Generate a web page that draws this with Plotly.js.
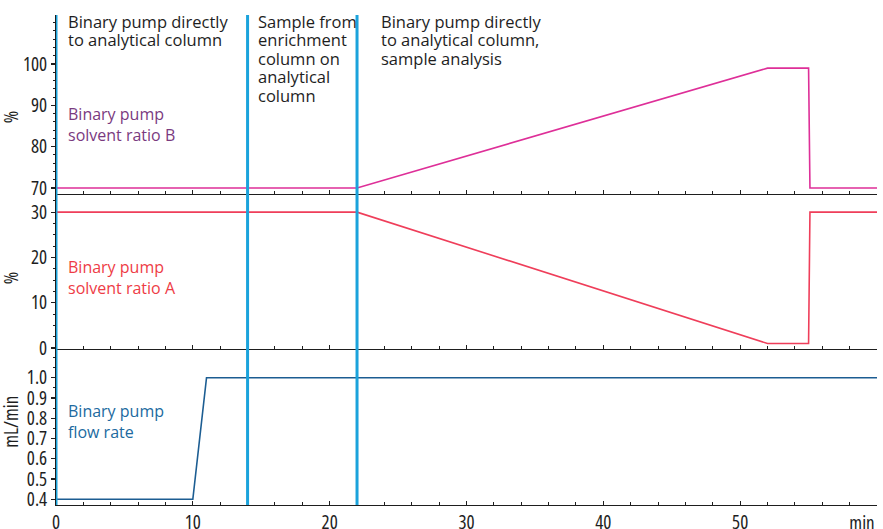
<!DOCTYPE html>
<html>
<head>
<meta charset="utf-8">
<script src="https://cdn.plot.ly/plotly-3.0.1.min.js"></script>
<style>
html,body{margin:0;padding:0;background:#fff;}
#chart{width:883px;height:529px;}
#chart g.xtick text, #chart g.ytick text, #chart g.y2tick text, #chart g.y3tick text, #chart g.x3tick text{font-stretch:75% !important;}
#chart g.annotation text{font-stretch:92% !important;}
#chart g.annotation.serieslab text{font-stretch:88% !important;}
#chart g.annotation.cond text{font-stretch:75% !important;}
</style>
</head>
<body>
<div id="chart"></div>
<script>
// ---- data ----
const timeB = [0, 22, 52, 55, 55.1, 60];
const ratioB = [70, 70, 99, 99, 70, 70];
const timeA = [0, 22, 52, 55, 55.1, 60];
const ratioA = [30, 30, 1, 1, 30, 30];
const timeFlow = [0, 10, 11, 60];
const flowRate = [0.4, 0.4, 1.0, 1.0];
const valveTimes = [0, 14, 22];
const tickB = [70, 80, 90, 100];
const tickA = [0, 10, 20, 30];
const tickFlow = [0.4, 0.5, 0.6, 0.7, 0.8, 0.9, 1.0];
const phaseLabels = [
  ["Binary pump directly", "to analytical column"],
  ["Sample from", "enrichment", "column on", "analytical", "column"],
  ["Binary pump directly", "to analytical column,", "sample analysis"]
];
const seriesLabels = ["Binary pump<br>solvent ratio B", "Binary pump<br>solvent ratio A", "Binary pump<br>flow rate"];
const yTitles = ["%", "%", "mL/min"];

// ---- style ----
const FONT = "'Open Sans', 'DejaVu Sans', sans-serif";
const INK = "#1e1e1e";
const colB = "#de2f98", colA = "#ef3e5a", colF = "#1c5d92";
const labB = "#7a3a7f", labA = "#ee3c46", labF = "#216aa0";
const valveCol = "#1ba3dc";

const traces = [
  {x: timeB, y: ratioB, xaxis: "x", yaxis: "y", mode: "lines", line: {color: colB, width: 1.6}, hoverinfo: "skip"},
  {x: timeA, y: ratioA, xaxis: "x2", yaxis: "y2", mode: "lines", line: {color: colA, width: 1.6}, hoverinfo: "skip"},
  {x: timeFlow, y: flowRate, xaxis: "x3", yaxis: "y3", mode: "lines", line: {color: colF, width: 1.6}, hoverinfo: "skip"}
];

function xax(anchor, labels) {
  return {
    anchor: anchor, range: [0, 60], dtick: 10, tick0: 0,
    showgrid: false, zeroline: false, showline: true, linecolor: INK, linewidth: 1.2,
    ticks: "inside", ticklen: 4, tickwidth: 1.2, tickcolor: INK,
    minor: {dtick: 2, ticks: "inside", ticklen: 3, tickwidth: 1, tickcolor: INK, showgrid: false},
    showticklabels: labels,
    tickfont: {family: FONT, size: 19, color: INK},
    fixedrange: true
  };
}
function yax(domain, range, vals, minor, fmt) {
  return {
    domain: domain, range: range, tickmode: "array", tickvals: vals,
    showgrid: false, zeroline: false, showline: true, linecolor: INK, linewidth: 1,
    ticks: "outside", ticklen: 4, tickwidth: 1.2, tickcolor: INK,
    minor: {dtick: minor, tick0: 0, ticks: "outside", ticklen: 2, tickwidth: 1, tickcolor: INK, showgrid: false},
    tickformat: fmt, ticklabelstandoff: 0,
    tickfont: {family: FONT, size: 19, color: INK},
    fixedrange: true
  };
}

const annotations = [];
phaseLabels.forEach((lines, i) => {
  const shiftX = [10, 8, 22][i];
  lines.forEach((t, j) => {
    annotations.push({
      text: t, xref: "x3", yref: "paper", x: valveTimes[i], y: 1,
      xanchor: "left", yanchor: "middle", xshift: shiftX, yshift: -(6 + j * 18.6),
      showarrow: false, align: "left",
      font: {family: FONT, size: 16.5, color: INK}
    });
  });
});
const labelCols = [labB, labA, labF];
const labelCenters = [124, 277, 421];   // px from top of figure
const titleCenters = [117, 278, 422];
const figTop = 15;
const seriesIdx = [];
seriesLabels.forEach((t, i) => {
  seriesIdx.push(annotations.length);
  annotations.push({
    text: t, xref: "paper", yref: "paper", x: 0, y: 1,
    xanchor: "left", yanchor: "middle", xshift: 10, yshift: -(labelCenters[i] - figTop),
    showarrow: false, align: "left",
    font: {family: FONT, size: 16, color: labelCols[i]}
  });
});
const condensedIdx = [];
yTitles.forEach((t, i) => {
  condensedIdx.push(annotations.length);
  annotations.push({
    text: t, xref: "paper", yref: "paper", x: 0, y: 1, textangle: -90,
    xanchor: "center", yanchor: "middle", xshift: -45, yshift: -(titleCenters[i] - figTop),
    showarrow: false, font: {family: FONT, size: 19, color: INK}
  });
});
condensedIdx.push(annotations.length);
annotations.push({
  text: "min", xref: "paper", yref: "paper", x: 1, y: 0,
  xanchor: "right", yanchor: "top", xshift: 4, yshift: -3,
  showarrow: false, font: {family: FONT, size: 19, color: INK}
});

const shapes = valveTimes.map(t => ({
  type: "line", xref: "x3", yref: "paper", x0: t, x1: t, y0: 0, y1: 1,
  line: {color: valveCol, width: 3}, layer: "above"
}));

const layout = {
  width: 883, height: 529,
  margin: {l: 56, r: 6, t: 15, b: 24, pad: 0},
  paper_bgcolor: "#ffffff", plot_bgcolor: "#ffffff",
  showlegend: false,
  xaxis: xax("y", false),
  xaxis2: xax("y2", false),
  xaxis3: xax("y3", true),
  yaxis: yax([0.6347, 1], [68.55, 111.85], tickB, 2, "d"),
  yaxis2: yax([0.3184, 0.6347], [-0.2, 34], tickA, 2.5, "d"),
  yaxis3: yax([0, 0.3184], [0.372, 1.142], tickFlow, 0.05, ".1f"),
  annotations: annotations,
  shapes: shapes,
  font: {family: FONT, color: INK}
};

function markClasses() {
  document.querySelectorAll("#chart g.annotation").forEach(g => {
    const k = Number(g.getAttribute("data-index"));
    if (condensedIdx.includes(k)) g.classList.add("cond");
    if (seriesIdx.includes(k)) g.classList.add("serieslab");
  });
}
Plotly.newPlot("chart", traces, layout, {displayModeBar: false, staticPlot: true}).then(markClasses);
</script>
</body>
</html>
